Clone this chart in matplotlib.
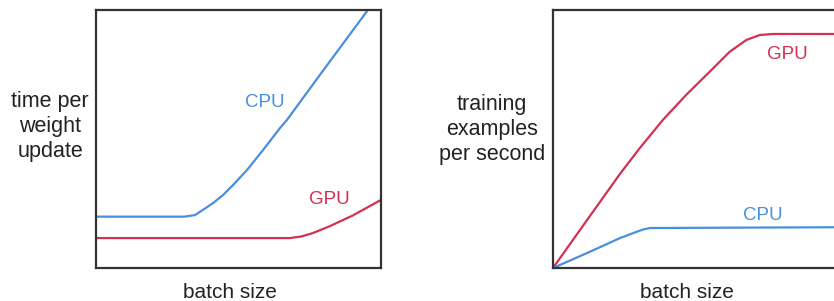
import matplotlib
matplotlib.use("Agg")
import matplotlib.pyplot as plt

plt.rcParams['font.family'] = ['Liberation Sans', 'DejaVu Sans']

BLUE = '#4a8fdc'
RED = '#d33152'

# Left panel: time per weight update vs batch size
left_cpu_x = [0.0, 0.31, 0.347, 0.375, 0.411, 0.446, 0.481, 0.530, 0.586, 0.646, 0.670, 0.80, 0.954]
left_cpu_y = [0.199, 0.199, 0.205, 0.225, 0.252, 0.283, 0.322, 0.380, 0.457, 0.543, 0.574, 0.77, 1.0]
left_gpu_x = [0.0, 0.68, 0.72, 0.76, 0.82, 0.90, 1.0]
left_gpu_y = [0.116, 0.116, 0.122, 0.135, 0.162, 0.203, 0.264]

# Right panel: training examples per second vs batch size
right_gpu_x = [0.0, 0.12, 0.236, 0.305, 0.387, 0.469, 0.552, 0.622, 0.681, 0.728, 0.775, 1.0]
right_gpu_y = [0.0, 0.186, 0.365, 0.464, 0.574, 0.671, 0.761, 0.838, 0.884, 0.903, 0.907, 0.907]
right_cpu_x = [0.0, 0.12, 0.236, 0.296, 0.32, 0.342, 1.0]
right_cpu_y = [0.0, 0.058, 0.116, 0.141, 0.150, 0.155, 0.158]

fig = plt.figure(figsize=(8.34, 3.01), dpi=100)
axL = fig.add_axes([96/834, 33/301, 285/834, 258/301])
axR = fig.add_axes([553/834, 33/301, 284/834, 258/301])

for ax in (axL, axR):
    ax.set_xlim(0, 1)
    ax.set_ylim(0, 1)
    ax.set_xticks([])
    ax.set_yticks([])
    for s in ax.spines.values():
        s.set_linewidth(1.6)
        s.set_color('#333333')

axL.plot(left_cpu_x, left_cpu_y, color=BLUE, lw=1.6)
axL.plot(left_gpu_x, left_gpu_y, color=RED, lw=1.6)
axL.text(0.593, 0.643, 'CPU', color=BLUE, fontsize=13.5, ha='center', va='center')
axL.text(0.82, 0.264, 'GPU', color=RED, fontsize=13.5, ha='center', va='center')
axL.set_xlabel('batch size', fontsize=15, color='#222222')
axL.xaxis.set_label_coords(0.47, -0.06)
axL.set_ylabel('time per\nweight\nupdate', fontsize=15.5, rotation=0, color='#222222',
               ha='center', va='center', multialignment='center', linespacing=1.25)
axL.yaxis.set_label_coords(-0.161, 0.547)

axR.plot(right_gpu_x, right_gpu_y, color=RED, lw=1.6)
axR.plot(right_cpu_x, right_cpu_y, color=BLUE, lw=1.6)
axR.text(0.827, 0.826, 'GPU', color=RED, fontsize=13.5, ha='center', va='center')
axR.text(0.739, 0.205, 'CPU', color=BLUE, fontsize=13.5, ha='center', va='center')
axR.set_xlabel('batch size', fontsize=15, color='#222222')
axR.xaxis.set_label_coords(0.472, -0.06)
axR.set_ylabel('training\nexamples\nper second', fontsize=15.5, rotation=0, color='#222222',
               ha='center', va='center', multialignment='center', linespacing=1.25)
axR.yaxis.set_label_coords(-0.215, 0.535)

fig.savefig('out.png', dpi=100)
